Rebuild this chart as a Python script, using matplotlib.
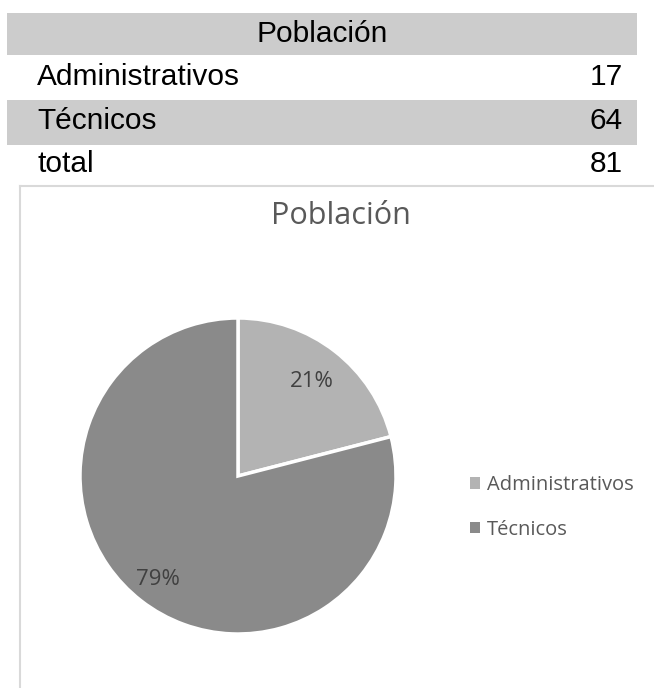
import numpy as np
import matplotlib.pyplot as plt
from matplotlib.patches import Rectangle
from matplotlib.lines import Line2D

# data
categorias = ['Administrativos', 'Técnicos']
valores = [17, 64]
total = sum(valores)
titulo = 'Población'

colores = ['#b3b3b3', '#8a8a8a']
W, H = 654, 688

fig = plt.figure(figsize=(W / 100, H / 100), dpi=100)
fig.patch.set_facecolor('white')

def fx(px):
    return px / W

def fy(py):
    return 1 - py / H

# ---- table on top ----
tfont = 'Liberation Sans'
fig.patches.append(Rectangle((fx(7), fy(55)), fx(630), 42 / H, transform=fig.transFigure,
                             facecolor='#cccccc', edgecolor='none'))
fig.patches.append(Rectangle((fx(7), fy(145)), fx(630), 45 / H, transform=fig.transFigure,
                             facecolor='#cccccc', edgecolor='none'))
fig.text(fx(322), fy(34), titulo, ha='center', va='center', fontsize=21.5, family=tfont, color='black')
filas = categorias + ['total']
nums = valores + [total]
ys = [77, 121, 164]
for nombre, n, y in zip(filas, nums, ys):
    fig.text(fx(37), fy(y), nombre, ha='left', va='center', fontsize=21.5, family=tfont, color='black')
    fig.text(fx(623), fy(y), str(n), ha='right', va='center', fontsize=21.5, family=tfont, color='black')

# ---- chart frame ----
fig.add_artist(Line2D([fx(20), fx(654)], [fy(186), fy(186)], transform=fig.transFigure,
                      color='#d9d9d9', lw=1.5))
fig.add_artist(Line2D([fx(20), fx(20)], [fy(186), fy(688)], transform=fig.transFigure,
                      color='#d9d9d9', lw=1.5))

fig.text(fx(341), fy(216), titulo, ha='center', va='center', fontsize=22,
         family='Open Sans', color='#595959')

# ---- pie ----
cx, cy, r = 238, 476, 158
ax = fig.add_axes([fx(cx - r), fy(cy + r), 2 * r / W, 2 * r / H])
wedges, texts, autotexts = ax.pie(valores, colors=colores, startangle=90, counterclock=False,
                                  autopct='%1.0f%%', pctdistance=0.6, radius=1,
                                  wedgeprops=dict(edgecolor='white', linewidth=2.5))
dist = [0.76, 0.83]
for w, t, d in zip(wedges, autotexts, dist):
    ang = np.deg2rad((w.theta1 + w.theta2) / 2)
    t.set_position((d * np.cos(ang), d * np.sin(ang)))
    t.set_fontfamily('Open Sans')
    t.set_fontsize(16)
    t.set_color('#404040')
ax.set_xlim(-1, 1)
ax.set_ylim(-1, 1)
ax.set_aspect('equal')
ax.axis('off')

# ---- legend ----
leg = fig.legend(wedges, categorias, loc='upper left', bbox_to_anchor=(fx(452), fy(457)),
                 frameon=False, handlelength=0.5, handleheight=0.5, handletextpad=0.35,
                 labelspacing=1.22, prop={'family': 'Open Sans', 'size': 14.5})
for t in leg.get_texts():
    t.set_color('#595959')
for h in leg.legend_handles:
    h.set_edgecolor('none')

fig.savefig('out.png', dpi=100)
